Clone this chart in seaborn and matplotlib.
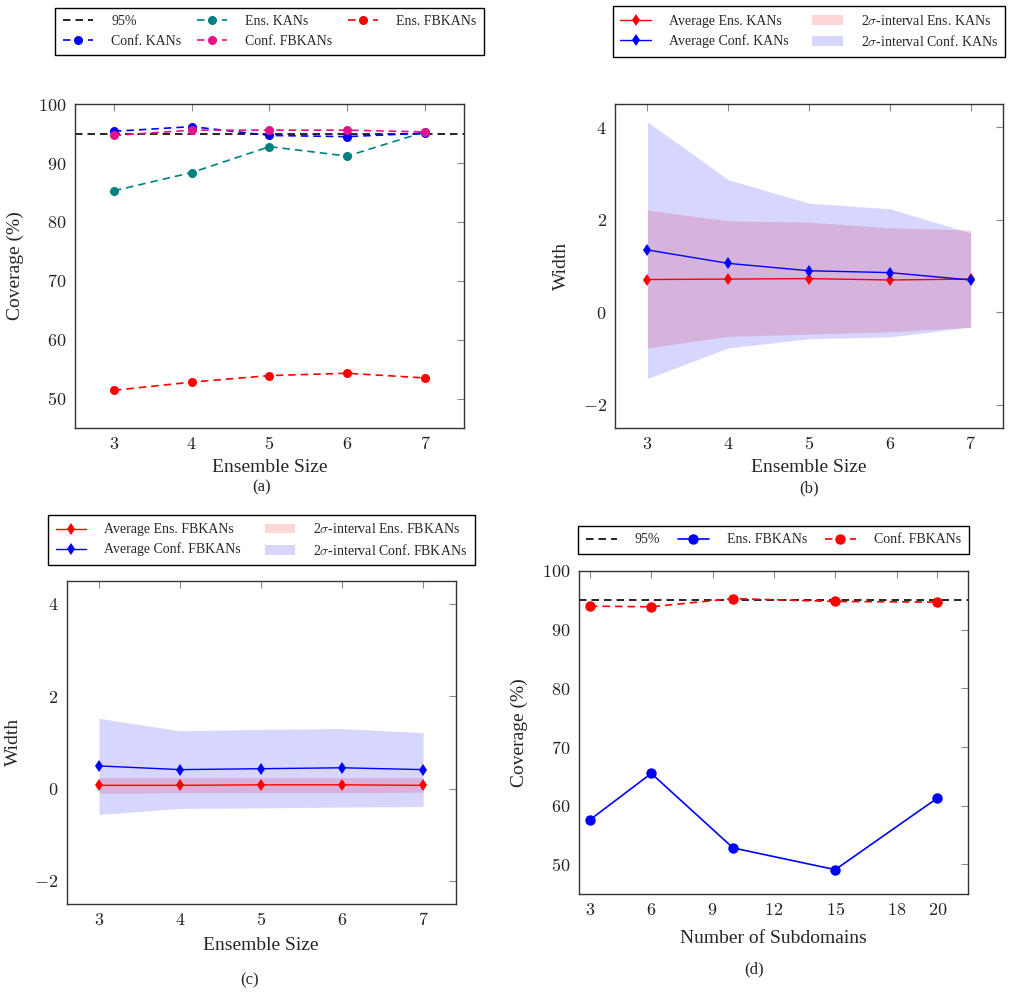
import numpy as np
import pandas as pd
import seaborn as sns
import matplotlib
matplotlib.use("Agg")
import matplotlib.pyplot as plt
from matplotlib.ticker import FuncFormatter, FixedLocator
from matplotlib.lines import Line2D
from matplotlib.patches import Patch

# ---- data ----
ens_size = [3, 4, 5, 6, 7]

# (a) coverage vs ensemble size
cov_ens_kan = [85.3, 88.4, 92.8, 91.2, 95.3]
cov_conf_kan = [95.4, 96.2, 94.7, 94.5, 95.1]
cov_ens_fbkan = [51.4, 52.8, 53.9, 54.3, 53.5]
cov_conf_fbkan = [94.7, 95.6, 95.6, 95.6, 95.3]

# (b) widths for KANs
w_ens_kan = [0.71, 0.72, 0.73, 0.70, 0.72]
w_ens_kan_lo = [-0.77, -0.52, -0.47, -0.42, -0.32]
w_ens_kan_hi = [2.21, 1.98, 1.95, 1.83, 1.78]
w_conf_kan = [1.35, 1.06, 0.90, 0.86, 0.70]
w_conf_kan_lo = [-1.43, -0.77, -0.57, -0.53, -0.32]
w_conf_kan_hi = [4.12, 2.87, 2.36, 2.24, 1.72]

# (c) widths for FBKANs
w_ens_fb = [0.07, 0.07, 0.08, 0.08, 0.07]
w_ens_fb_lo = [-0.10, -0.09, -0.09, -0.09, -0.08]
w_ens_fb_hi = [0.24, 0.24, 0.24, 0.24, 0.24]
w_conf_fb = [0.49, 0.41, 0.43, 0.45, 0.41]
w_conf_fb_lo = [-0.56, -0.43, -0.42, -0.40, -0.39]
w_conf_fb_hi = [1.52, 1.25, 1.28, 1.30, 1.21]

# (d) coverage vs number of subdomains
subdomains = [3, 6, 10, 15, 20]
cov_sub_ens = [57.6, 65.5, 52.8, 49.1, 61.3]
cov_sub_conf = [94.0, 93.9, 95.3, 94.8, 94.7]
sub_ticks = [3, 6, 9, 12, 15, 18, 20]

sns.set_style("white")
plt.rcParams["font.family"] = ["Liberation Serif", "DejaVu Serif"]
plt.rcParams["mathtext.fontset"] = "cm"

TEAL = "#008080"
PINK = "#e6128c"
BAND_A = 0.16
DASH = (0, (4.5, 3))

fig = plt.figure(figsize=(10.1, 9.93), dpi=100)
ax_a = fig.add_axes([0.0743, 0.569, 0.385, 0.326])
ax_b = fig.add_axes([0.609, 0.569, 0.384, 0.326])
ax_c = fig.add_axes([0.066, 0.0896, 0.385, 0.3256])
ax_d = fig.add_axes([0.573, 0.1, 0.3855, 0.325])

cm_fmt = FuncFormatter(lambda v, p: f"${v:g}$")


def style_axes(ax):
    for s in ax.spines.values():
        s.set_color("#333333")
        s.set_linewidth(1.0)
    ax.tick_params(direction="in", top=True, right=True, length=5,
                   width=0.8, color="#888888", labelsize=13, pad=6,
                   labelcolor="#222222")
    ax.xaxis.set_major_formatter(cm_fmt)
    ax.yaxis.set_major_formatter(cm_fmt)


def frame_legend(ax, handles, labels, center, ncol, **kw):
    leg = ax.legend(handles, labels, loc="center", bbox_to_anchor=center,
                    bbox_transform=fig.transFigure, ncol=ncol, fontsize=10,
                    fancybox=False, framealpha=1, edgecolor="black",
                    borderpad=0.55, labelspacing=0.45, handlelength=2.2,
                    handletextpad=1.3, **kw)
    leg.get_frame().set_linewidth(1.0)
    return leg


# ---------- (a) ----------
ax = ax_a
ax.axhline(95, color="black", ls=DASH, lw=1.2)
line_kw = dict(ax=ax, linestyle=DASH, marker="o", markersize=6.5,
               markeredgewidth=0, linewidth=1.2)
sns.lineplot(x=ens_size, y=cov_ens_kan, color=TEAL, **line_kw)
sns.lineplot(x=ens_size, y=cov_ens_fbkan, color="red", **line_kw)
sns.lineplot(x=ens_size, y=cov_conf_kan, color="blue", **line_kw)
sns.lineplot(x=ens_size, y=cov_conf_fbkan, color=PINK, **line_kw)
ax.set_xlim(2.5, 7.5)
ax.set_ylim(45, 100)
ax.xaxis.set_major_locator(FixedLocator(ens_size))
ax.yaxis.set_major_locator(FixedLocator([50, 60, 70, 80, 90, 100]))
style_axes(ax)
ax.set_xlabel("Ensemble Size", fontsize=14)
ax.set_ylabel("Coverage (%)", fontsize=14)
ax.xaxis.set_label_coords(0.5, -0.096)
ax.yaxis.set_label_coords(-0.131, 0.5)


def mk(color, ls=DASH, marker="o", ms=6.5):
    return Line2D([], [], color=color, ls=ls, marker=marker, markersize=ms,
                  markeredgewidth=0, lw=1.2)


h = [Line2D([], [], color="black", ls=DASH, lw=1.2), mk("blue"),
     mk(TEAL), mk(PINK), mk("red")]
l = ["95%", "Conf. KANs", "Ens. KANs", "Conf. FBKANs", "Ens. FBKANs"]
frame_legend(ax, h, l, (0.2668, 0.9683), 3, columnspacing=1.1)

# ---------- (b) ----------
ax = ax_b
ax.fill_between(ens_size, w_ens_kan_lo, w_ens_kan_hi, color="red",
                alpha=BAND_A, lw=0)
ax.fill_between(ens_size, w_conf_kan_lo, w_conf_kan_hi, color="blue",
                alpha=BAND_A, lw=0)
avg_kw = dict(ax=ax, marker="d", markersize=6.5, markeredgewidth=0,
              linewidth=1.0)
sns.lineplot(x=ens_size, y=w_ens_kan, color="red", **avg_kw)
sns.lineplot(x=ens_size, y=w_conf_kan, color="blue", **avg_kw)
ax.set_xlim(2.6, 7.4)
ax.set_ylim(-2.5, 4.5)
ax.xaxis.set_major_locator(FixedLocator(ens_size))
ax.yaxis.set_major_locator(FixedLocator([-2, 0, 2, 4]))
style_axes(ax)
ax.set_xlabel("Ensemble Size", fontsize=14)
ax.set_ylabel("Width", fontsize=14)
ax.xaxis.set_label_coords(0.5, -0.096)
ax.yaxis.set_label_coords(-0.116, 0.5)


def avg_h(color):
    return Line2D([], [], color=color, marker="d", markersize=6.5,
                  markeredgewidth=0, lw=1.0)


def band_h(color):
    return Patch(facecolor=color, alpha=BAND_A, lw=0)


h = [avg_h("red"), avg_h("blue"), band_h("red"), band_h("blue")]
l = ["Average Ens. KANs", "Average Conf. KANs",
     r"2$\sigma$-interval Ens. KANs", r"2$\sigma$-interval Conf. KANs"]
frame_legend(ax, h, l, (0.801, 0.9683), 2, columnspacing=1.7)

# ---------- (c) ----------
ax = ax_c
ax.fill_between(ens_size, w_ens_fb_lo, w_ens_fb_hi, color="red",
                alpha=BAND_A, lw=0)
ax.fill_between(ens_size, w_conf_fb_lo, w_conf_fb_hi, color="blue",
                alpha=BAND_A, lw=0)
avg_kw["ax"] = ax
sns.lineplot(x=ens_size, y=w_ens_fb, color="red", **avg_kw)
sns.lineplot(x=ens_size, y=w_conf_fb, color="blue", **avg_kw)
ax.set_xlim(2.6, 7.4)
ax.set_ylim(-2.5, 4.5)
ax.xaxis.set_major_locator(FixedLocator(ens_size))
ax.yaxis.set_major_locator(FixedLocator([-2, 0, 2, 4]))
style_axes(ax)
ax.set_xlabel("Ensemble Size", fontsize=14)
ax.set_ylabel("Width", fontsize=14)
ax.xaxis.set_label_coords(0.5, -0.102)
ax.yaxis.set_label_coords(-0.115, 0.5)

h = [avg_h("red"), avg_h("blue"), band_h("red"), band_h("blue")]
l = ["Average Ens. FBKANs", "Average Conf. FBKANs",
     r"2$\sigma$-interval Ens. FBKANs", r"2$\sigma$-interval Conf. FBKANs"]
frame_legend(ax, h, l, (0.2589, 0.4562), 2, columnspacing=1.7)

# ---------- (d) ----------
ax = ax_d
ax.axhline(95, color="black", ls=DASH, lw=1.2)
sns.lineplot(x=subdomains, y=cov_sub_ens, ax=ax, color="blue", marker="o",
             markersize=7.5, markeredgewidth=0, linewidth=1.2)
sns.lineplot(x=subdomains, y=cov_sub_conf, ax=ax, color="red", marker="o",
             markersize=7.5, markeredgewidth=0, linewidth=1.2, linestyle=DASH)
ax.set_xlim(2.45, 21.5)
ax.set_ylim(45, 100)
ax.xaxis.set_major_locator(FixedLocator(sub_ticks))
ax.yaxis.set_major_locator(FixedLocator([50, 60, 70, 80, 90, 100]))
style_axes(ax)
ax.set_xlabel("Number of Subdomains", fontsize=14)
ax.set_ylabel("Coverage (%)", fontsize=14)
ax.xaxis.set_label_coords(0.5, -0.112)
ax.yaxis.set_label_coords(-0.131, 0.5)

h = [Line2D([], [], color="black", ls=DASH, lw=1.2),
     mk("blue", ls="-", ms=7.5), mk("red", ms=7.5)]
l = ["95%", "Ens. FBKANs", "Conf. FBKANs"]
frame_legend(ax, h, l, (0.7658, 0.4563), 3, columnspacing=1.3)

# captions
for txt, x, y in [("(a)", 0.259, 0.5096), ("(b)", 0.801, 0.5086),
                  ("(c)", 0.2475, 0.0131), ("(d)", 0.7465, 0.0242)]:
    fig.text(x, y, txt, ha="center", va="center", fontsize=12)

fig.savefig("out.png", dpi=100)
